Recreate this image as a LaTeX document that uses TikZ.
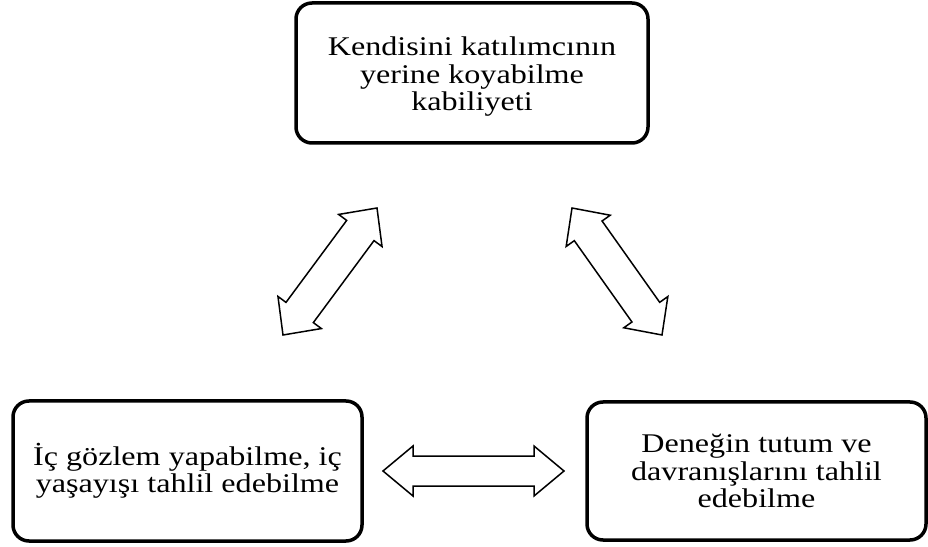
\documentclass[tikz,border=0pt]{standalone}
\usepackage{fontspec}
\setmainfont[FakeStretch=1.19]{Liberation Serif}
\usetikzlibrary{calc}
\tikzset{
  box/.style={draw, line width=3.5pt, rounded corners=16pt, align=center,
    font=\fontsize{27}{27.5}\selectfont, inner sep=0pt},
  arr/.style={draw, line width=1.5pt, line join=miter, fill=white}
}
% #1,#2 named end coordinates, #3 shaft half width, #4 head half width, #5 head length
\newcommand\dblarr[5]{%
  \coordinate (h1) at ($(#1)!#5!(#2)$);
  \coordinate (h2) at ($(#2)!#5!(#1)$);
  \draw[arr] (#1) -- ($(h1)!#4!90:(#2)$) -- ($(h1)!#3!90:(#2)$)
    -- ($(h2)!#3!-90:(#1)$) -- ($(h2)!#4!-90:(#1)$) -- (#2)
    -- ($(h2)!#4!90:(#1)$) -- ($(h2)!#3!90:(#1)$)
    -- ($(h1)!#3!-90:(#2)$) -- ($(h1)!#4!-90:(#2)$) -- cycle;
}
\begin{document}
\begin{tikzpicture}[x=1pt,y=1pt]
\useasboundingbox (0,0) rectangle (928,546);
\node[box, minimum width=352pt, minimum height=140pt] (top) at (472,473)
  {\rule{0pt}{26pt}Kendisini katılımcının\\yerine koyabilme\\kabiliyeti};
\node[box, minimum width=349pt, minimum height=140pt] (left) at (187.5,75)
  {İç gözlem yapabilme, iç\\yaşayışı tahlil edebilme};
\node[box, minimum width=339pt, minimum height=138pt] (right) at (756.5,75)
  {Deneğin tutum ve\\davranışlarını tahlil\\edebilme};
\coordinate (la) at (283,211);
\coordinate (lb) at (377,338);
\coordinate (ra) at (572,338);
\coordinate (rb) at (662,211);
\coordinate (ha) at (383,75);
\coordinate (hb) at (564,75);
\dblarr{la}{lb}{17pt}{27pt}{28pt}
\dblarr{ra}{rb}{17pt}{27pt}{28pt}
\dblarr{ha}{hb}{15pt}{25pt}{30pt}
\end{tikzpicture}
\end{document}
